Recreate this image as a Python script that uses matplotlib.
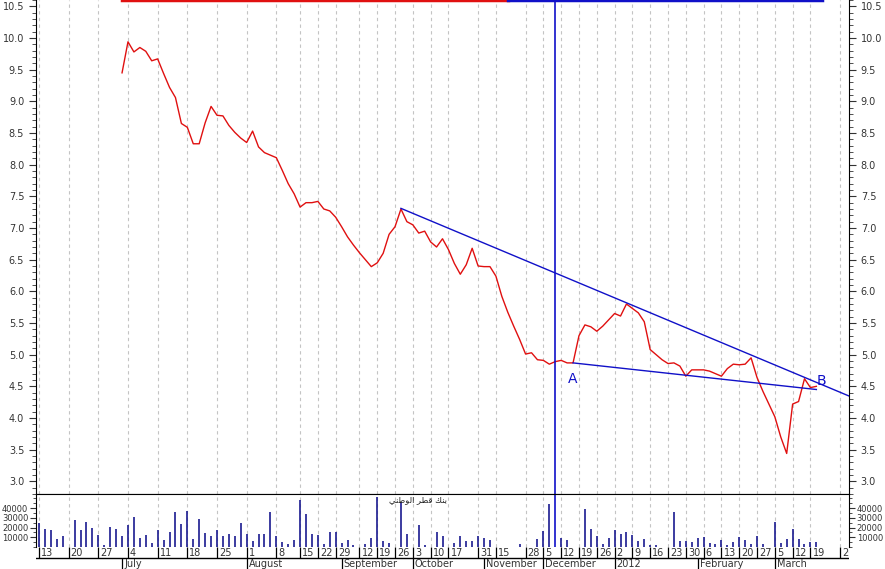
import numpy as np
import matplotlib
matplotlib.use('Agg')
import matplotlib.pyplot as plt
from matplotlib.ticker import MultipleLocator, FormatStrFormatter

plt.rcParams['font.family'] = ['DejaVu Sans']

# price series starts at bar index 14 (first trading day of July)
price_start = 14
price = [9.45, 9.94, 9.78, 9.85, 9.79, 9.64, 9.67, 9.44, 9.22, 9.06,
         8.65, 8.59, 8.33, 8.33, 8.66, 8.92, 8.78, 8.77, 8.62, 8.51,
         8.42, 8.35, 8.53, 8.28, 8.19, 8.15, 8.11, 7.91, 7.70, 7.54,
         7.33, 7.40, 7.40, 7.42, 7.30, 7.27, 7.17, 7.02, 6.86, 6.73,
         6.61, 6.50, 6.39, 6.45, 6.60, 6.90, 7.02, 7.30, 7.10, 7.05,
         6.92, 6.95, 6.78, 6.70, 6.83, 6.66, 6.44, 6.27, 6.42, 6.68,
         6.40, 6.39, 6.39, 6.24, 5.92, 5.67, 5.45, 5.24, 5.01, 5.03,
         4.92, 4.91, 4.85, 4.89, 4.91, 4.87, 4.87, 5.30, 5.47, 5.44,
         5.37, 5.45, 5.55, 5.65, 5.61, 5.80, 5.73, 5.66, 5.52, 5.08,
         5.00, 4.92, 4.86, 4.87, 4.82, 4.66, 4.76, 4.76, 4.76, 4.74,
         4.70, 4.66, 4.78, 4.85, 4.84, 4.85, 4.95, 4.64, 4.42, 4.22,
         4.02, 3.70, 3.44, 4.22, 4.26, 4.62, 4.48, 4.50]

# daily volume, bar index 0..131
volume = [24800, 18000, 17000, 8700, 11400, 0, 27600, 17000, 26000, 20000,
          12000, 1700, 20700, 18000, 11000, 22400, 30400, 9700, 12800, 4500,
          17000, 7600, 15900, 36000, 24000, 37000, 8700, 29000, 14500, 11000,
          17000, 11400, 13000, 11000, 25000, 13800, 5900, 13800, 13800, 35900,
          11000, 5600, 3500, 7000, 48000, 33500, 13800, 12000, 2800, 15500,
          15500, 4500, 7600, 1700, 0, 3500, 9300, 51700, 5900, 4500,
          0, 46500, 13800, 0, 22400, 1700, 0, 15500, 11000, 0,
          4500, 11000, 5900, 5900, 11000, 9300, 6900, 0, 0, 0,
          0, 2800, 0, 0, 8700, 16500, 44000, 0, 9300, 6900,
          0, 0, 39000, 18000, 11000, 3500, 9300, 17000, 13800, 15500,
          12800, 6200, 8700, 1700, 1700, 0, 0, 36000, 6200, 6200,
          5200, 9300, 10300, 4500, 3500, 6900, 1700, 5200, 10300, 7600,
          3500, 11000, 2800, 0, 25800, 3600, 8700, 18300, 8700, 2800,
          5200, 5200]

day_pos = [0, 5, 10, 15, 20, 25, 30, 35, 40, 44, 47, 50, 54, 57, 60, 63, 66, 69,
           74, 77, 82, 85, 88, 91, 94, 97, 100, 103, 106, 109, 112, 115, 118,
           121, 124, 127, 130, 135]
day_labels = ['13', '20', '27', '4', '11', '18', '25', '1', '8', '15', '22', '29',
              '12', '19', '26', '3', '10', '17', '31', '15', '28', '5', '12', '19',
              '26', '2', '9', '16', '23', '30', '6', '13', '20', '27', '5', '12',
              '19', '26']
month_pos = [14, 35, 51, 63, 75, 85, 97, 111, 124]
month_labels = ['July', 'August', 'September', 'October', 'November',
                'December', '2012', 'February', 'March']

# drawn objects
upper_x = [61, 140]
upper_y = [7.31, 4.21]
lower_x = [90, 131]
lower_y = [4.87, 4.45]
marker_day = 87
red_range = [14, 79]
blue_range = [79, 132]
point_labels = ['A', 'B']
point_x = [89.9, 131.8]
point_y = [4.62, 4.59]
stock_name = '\ufef2\ufee8\ufec3\ufeee\ufedf\ufe8d \ufeae\ufec4\ufed7 \ufeda\ufee8\ufe91'

XMIN, XMAX = -0.5, 136.5
BLUE = '#1010c8'
GRID = '#c4c4c4'

fig = plt.figure(figsize=(8.85, 5.69), dpi=100)
L, W = 36 / 885, (849 - 36) / 885
ax = fig.add_axes([L, 1 - 494 / 569, W, 494 / 569])
axv = fig.add_axes([L, 1 - 547 / 569, W, 53 / 569])
axd = fig.add_axes([L, 0, W, 22 / 569])

# main price panel
x_price = np.arange(price_start, price_start + len(price))
ax.plot(x_price, price, color='#e01010', lw=1)
ax.plot(upper_x, upper_y, color=BLUE, lw=1)
ax.plot(lower_x, lower_y, color=BLUE, lw=1)
ax.axvline(marker_day, color=BLUE, lw=1.2)
for t, px, py in zip(point_labels, point_x, point_y):
    ax.text(px, py, t, color=BLUE, fontsize=10, ha='center', va='center')
ax.plot(red_range, [10.6, 10.6], color='#e01010', lw=2.5, clip_on=False)
ax.plot(blue_range, [10.6, 10.6], color=BLUE, lw=2.5, clip_on=False)

ax.set_xlim(XMIN, XMAX)
ax.set_ylim(2.8, 10.6)
ax.yaxis.set_major_locator(MultipleLocator(0.5))
ax.yaxis.set_minor_locator(MultipleLocator(0.1))
ax.yaxis.set_major_formatter(FormatStrFormatter('%.1f'))
ax.tick_params(axis='y', which='both', left=True, right=True, labelleft=True,
               labelright=True, labelsize=7, colors='#333333', direction='out')
ax.tick_params(axis='y', which='major', length=5)
ax.tick_params(axis='y', which='minor', length=3)
ax.tick_params(axis='x', which='both', bottom=False, labelbottom=False)
ax.set_xticks(day_pos)
ax.grid(axis='x', color=GRID, lw=0.8, ls=(0, (3, 3)))
ax.spines['top'].set_visible(False)

# volume panel
axv.vlines(np.arange(len(volume)), 0, volume, color='#1a1a90', lw=1.2)
axv.axvline(marker_day, color=BLUE, lw=1.2)
axv.text(63.9, 48500, stock_name, fontsize=6, ha='center', va='center',
         color='#222222')
axv.set_xlim(XMIN, XMAX)
axv.set_ylim(0, 54500)
axv.yaxis.set_minor_locator(MultipleLocator(5000))
axv.set_yticks([10000, 20000, 30000, 40000])
axv.tick_params(axis='y', which='both', left=True, right=True, labelleft=True,
                labelright=True, labelsize=6, colors='#333333', direction='out',
                pad=1.5)
axv.tick_params(axis='y', which='major', length=4)
axv.tick_params(axis='y', which='minor', length=2)
axv.tick_params(axis='x', which='both', bottom=False, labelbottom=False)
axv.set_xticks(day_pos)
axv.grid(axis='x', color=GRID, lw=0.8, ls=(0, (3, 3)))
axv.spines['bottom'].set_visible(False)

# date strip
axd.set_xlim(XMIN, XMAX)
axd.set_ylim(0, 1)
axd.axis('off')
axd.axhline(0.5, color='black', lw=1)
axd.vlines(day_pos, 0.5, 1, color='black', lw=0.9)
axd.vlines(month_pos, 0, 0.5, color='black', lw=0.9)
for p, t in zip(day_pos, day_labels):
    axd.text(p + 0.35, 0.74, t, fontsize=7, va='center', ha='left',
             color='#333333', clip_on=True)
for p, t in zip(month_pos, month_labels):
    axd.text(p + 0.35, 0.22, t, fontsize=7, va='center', ha='left',
             color='#333333', clip_on=True)

fig.savefig('out.png', dpi=100)
